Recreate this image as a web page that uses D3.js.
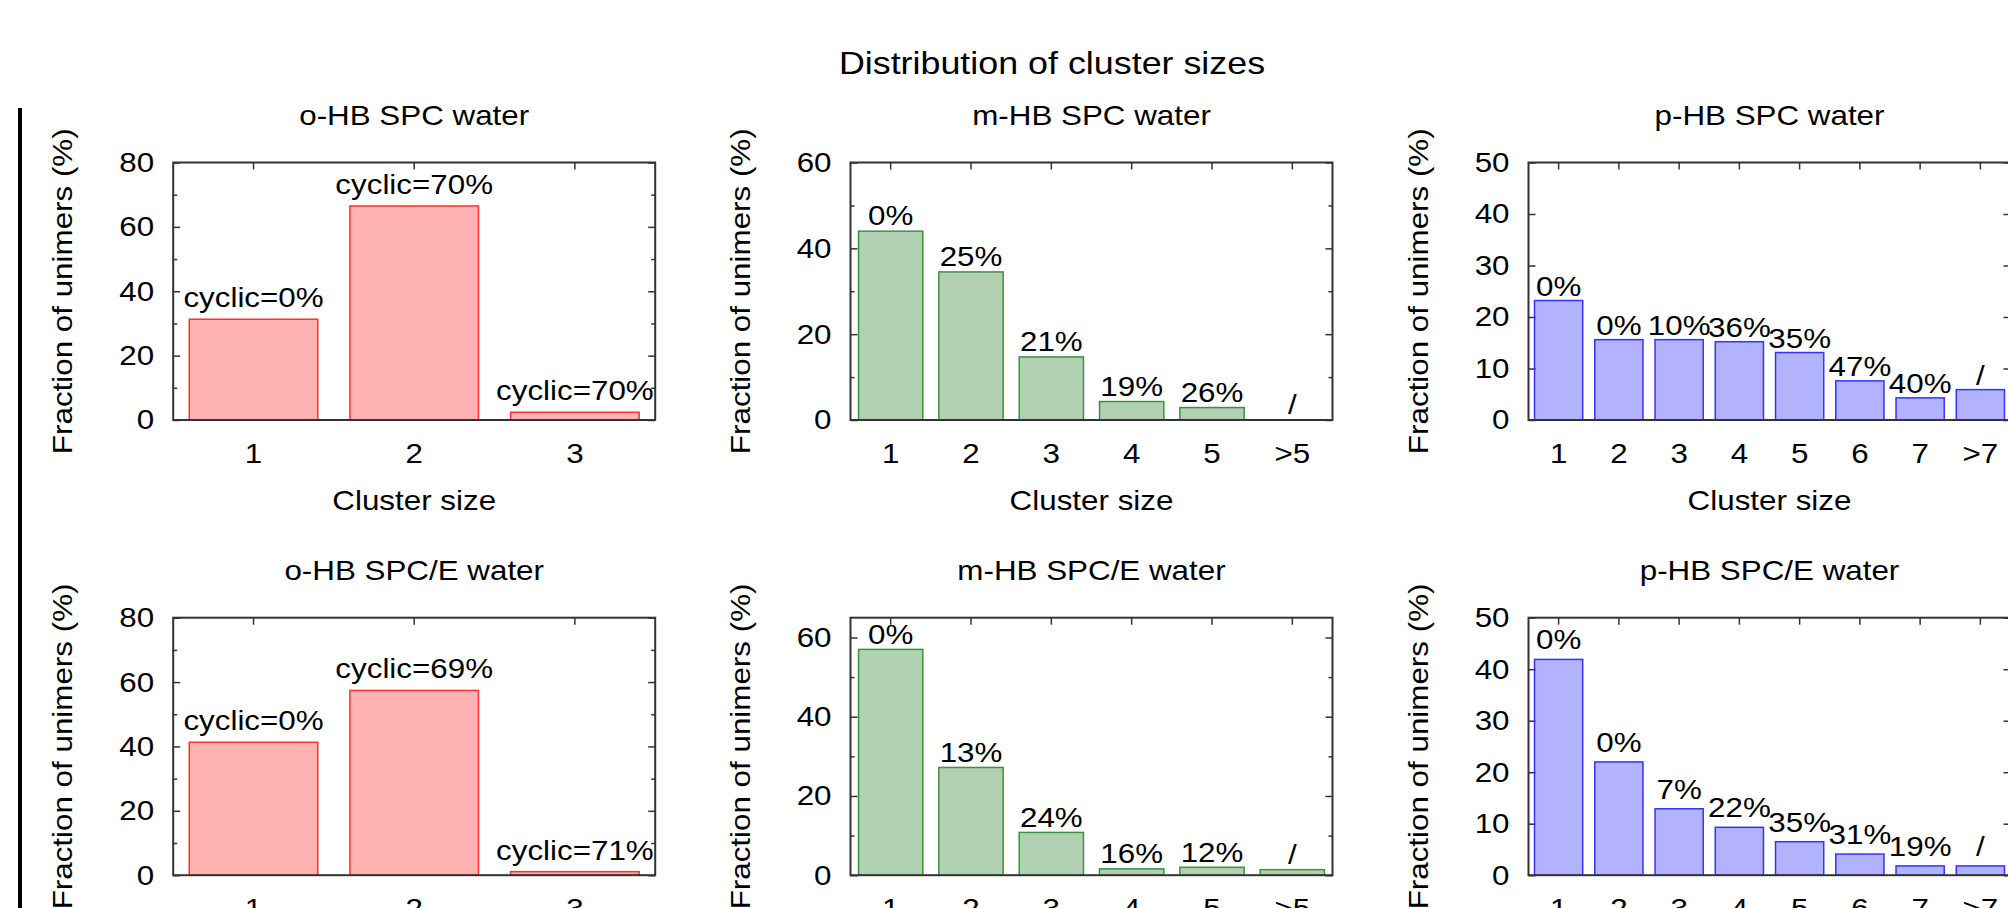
<!DOCTYPE html>
<html>
<head>
<meta charset="utf-8">
<title>Distribution of cluster sizes</title>
<script src="https://cdnjs.cloudflare.com/ajax/libs/d3/7.8.5/d3.min.js"></script>
<style>
  html, body { margin: 0; background: #fff; overflow: hidden; }
  svg { display: block; }
  svg text { font-family: "Liberation Sans", Arial, Helvetica, sans-serif; fill: #000; }
</style>
</head>
<body>
<script>
// categories (cluster size)
var catsO = ["1", "2", "3"],
    catsM = ["1", "2", "3", "4", "5", ">5"],
    catsP = ["1", "2", "3", "4", "5", "6", "7", ">7"];

// fraction of unimers (%)
var oSPC  = [31.3, 66.5, 2.4],
    mSPC  = [44.0, 34.5, 14.7, 4.3, 2.9, 0],
    pSPC  = [23.2, 15.6, 15.6, 15.2, 13.1, 7.6, 4.3, 5.9],
    oSPCE = [41.3, 57.4, 1.1],
    mSPCE = [57.0, 27.2, 10.8, 1.6, 2.0, 1.4],
    pSPCE = [41.9, 22.0, 12.9, 9.3, 6.5, 4.1, 1.8, 1.8];

// cyclic share written above each bar
var oSPCLab  = ["cyclic=0%", "cyclic=70%", "cyclic=70%"],
    mSPCLab  = ["0%", "25%", "21%", "19%", "26%", "/"],
    pSPCLab  = ["0%", "0%", "10%", "36%", "35%", "47%", "40%", "/"],
    oSPCELab = ["cyclic=0%", "cyclic=69%", "cyclic=71%"],
    mSPCELab = ["0%", "13%", "24%", "16%", "12%", "/"],
    pSPCELab = ["0%", "0%", "7%", "22%", "35%", "31%", "19%", "/"];

// y ticks
var ticksO = [0, 20, 40, 60, 80], minorO = [10, 30, 50, 70],
    ticksM = [0, 20, 40, 60],     minorM = [10, 30, 50],
    ticksP = [0, 10, 20, 30, 40, 50], minorP = [];

var titles = ["o-HB SPC water", "m-HB SPC water", "p-HB SPC water",
              "o-HB SPC/E water", "m-HB SPC/E water", "p-HB SPC/E water"];

var width = 2008, height = 908,
    W = 482, H = 257.5,
    colLeft = [173.2, 850.5, 1528.5],
    rowTop = [162.5, 617.7],
    SX = 1.12, fs = 28;

var panels = [
    {cats: catsO, vals: oSPC,  labs: oSPCLab,  ymax: 80, ticks: ticksO, minor: minorO, fill: "#ff0000", stroke: "#ff3030", gap: 12},
    {cats: catsM, vals: mSPC,  labs: mSPCLab,  ymax: 60, ticks: ticksM, minor: minorM, fill: "#006400", stroke: "#3c923c", gap: 6},
    {cats: catsP, vals: pSPC,  labs: pSPCLab,  ymax: 50, ticks: ticksP, minor: minorP, fill: "#0000ff", stroke: "#3434ff", gap: 5},
    {cats: catsO, vals: oSPCE, labs: oSPCELab, ymax: 80, ticks: ticksO, minor: minorO, fill: "#ff0000", stroke: "#ff3030", gap: 12},
    {cats: catsM, vals: mSPCE, labs: mSPCELab, ymax: 65, ticks: ticksM, minor: minorM, fill: "#006400", stroke: "#3c923c", gap: 5.5},
    {cats: catsP, vals: pSPCE, labs: pSPCELab, ymax: 50, ticks: ticksP, minor: minorP, fill: "#0000ff", stroke: "#3434ff", gap: 10}
];

var svg = d3.select("body").append("svg")
    .attr("width", width)
    .attr("height", height);

function stext(g, x, y, str, size, rot) {
    return g.append("text")
        .attr("transform", "translate(" + x + "," + y + ")" + (rot ? " rotate(" + rot + ")" : "") + " scale(" + SX + ",1)")
        .attr("text-anchor", "middle")
        .attr("font-size", size)
        .text(str);
}

// frame line on the left
svg.append("line")
    .attr("x1", 20).attr("x2", 20)
    .attr("y1", 108).attr("y2", height)
    .attr("stroke", "#000").attr("stroke-width", 4);

stext(svg, 1052, 74, "Distribution of cluster sizes", 32);

function tidy(sel) {
    sel.select(".domain").remove();
    sel.attr("font-size", fs).attr("color", "#333");
    sel.selectAll(".tick line").attr("stroke-width", 1.5);
}

panels.forEach(function(p, i) {
    var left = colLeft[i % 3], top = rowTop[Math.floor(i / 3)];
    var g = svg.append("g").attr("transform", "translate(" + left + "," + top + ")");

    var x = d3.scaleBand().domain(p.cats).range([0, W]).paddingInner(0.2).paddingOuter(0.1);
    var y = d3.scaleLinear().domain([0, p.ymax]).range([H, 0]);

    // y axis, ticks point inward on both sides
    g.append("g")
        .call(d3.axisLeft(y).tickValues(p.ticks).tickSize(-7).tickPadding(19))
        .call(tidy)
        .selectAll(".tick text")
        .attr("x", -19 / SX)
        .attr("transform", "scale(" + SX + ",1)");
    g.append("g")
        .attr("transform", "translate(" + W + ",0)")
        .call(d3.axisRight(y).tickValues(p.ticks).tickSize(-7).tickFormat(""))
        .call(tidy);
    if (p.minor.length) {
        g.append("g")
            .call(d3.axisLeft(y).tickValues(p.minor).tickSize(-4).tickFormat(""))
            .call(tidy);
        g.append("g")
            .attr("transform", "translate(" + W + ",0)")
            .call(d3.axisRight(y).tickValues(p.minor).tickSize(-4).tickFormat(""))
            .call(tidy);
    }

    // x axis: labels below, mirrored ticks on top
    g.append("g")
        .attr("transform", "translate(0," + H + ")")
        .call(d3.axisBottom(x).tickSize(0).tickPadding(23))
        .call(tidy)
        .selectAll(".tick text")
        .attr("transform", "scale(" + SX + ",1)");
    g.append("g")
        .call(d3.axisTop(x).tickSize(-7).tickFormat(""))
        .call(tidy);

    // bars
    g.selectAll(".bar")
        .data(p.vals.map(function(v, j) { return {c: p.cats[j], v: v}; }).filter(function(d) { return d.v > 0; }))
        .join("rect")
        .attr("class", "bar")
        .attr("x", function(d) { return x(d.c); })
        .attr("y", function(d) { return y(d.v); })
        .attr("width", x.bandwidth())
        .attr("height", function(d) { return H - y(d.v); })
        .attr("fill", p.fill)
        .attr("fill-opacity", 0.3)
        .attr("stroke", p.stroke)
        .attr("stroke-width", 1.5);

    // border
    g.append("rect")
        .attr("width", W).attr("height", H)
        .attr("fill", "none")
        .attr("stroke", "#333")
        .attr("stroke-width", 2);

    // labels above bars
    p.vals.forEach(function(v, j) {
        stext(g, x(p.cats[j]) + x.bandwidth() / 2, y(v) - p.gap, p.labs[j], fs);
    });

    stext(g, W / 2, -37.5, titles[i], fs);
    stext(g, W / 2, H + 90, "Cluster size", fs);
    stext(g, -101, H / 2, "Fraction of unimers (%)", fs, -90);
});
</script>
</body>
</html>
